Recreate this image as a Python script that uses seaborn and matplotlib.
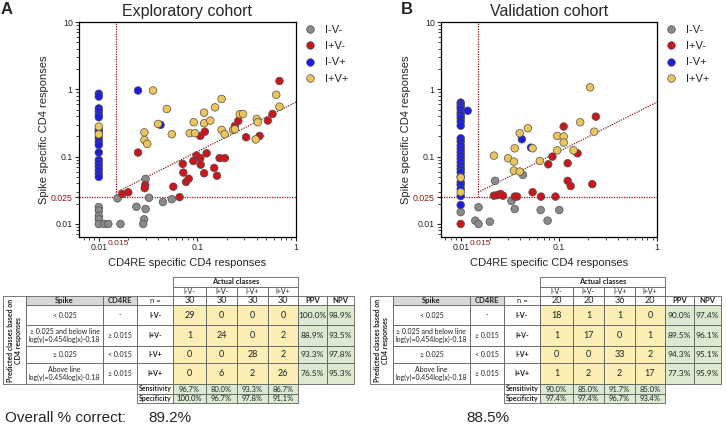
import numpy as np
import pandas as pd
import matplotlib
matplotlib.use("Agg")
import matplotlib.pyplot as plt
import seaborn as sns
from matplotlib.patches import Rectangle
from matplotlib.ticker import LogLocator, NullFormatter

# --- data ---
classes = ["I-V-", "I+V-", "I-V+", "I+V+"]
class_colors = ["#8a8a8a", "#cc161c", "#1c1ce6", "#ebc45a"]

# Exploratory cohort: x = CD4RE specific, y = spike specific CD4 responses
exp_neg_x = [0.01, 0.01, 0.01, 0.01, 0.01, 0.0114, 0.0125, 0.0166, 0.0155, 0.0241, 0.0298,
             0.0288, 0.0282, 0.0323, 0.0447, 0.055, 0.0298]
exp_neg_y = [0.0178, 0.0158, 0.0131, 0.0117, 0.01, 0.01, 0.01, 0.01, 0.024, 0.018, 0.0167,
             0.0117, 0.01, 0.0245, 0.0212, 0.0233, 0.0467]
exp_ipos_x = [0.025, 0.0173, 0.0199, 0.0296, 0.0292, 0.057, 0.066, 0.071, 0.072, 0.0766,
              0.0816, 0.091, 0.098, 0.107, 0.108, 0.117, 0.124, 0.107, 0.119, 0.148,
              0.158, 0.168, 0.19, 0.24, 0.26, 0.312, 0.427, 0.518, 0.578, 0.68]
exp_ipos_y = [0.115, 0.0279, 0.0296, 0.038, 0.034, 0.0358, 0.025, 0.078, 0.058, 0.042,
              0.047, 0.086, 0.104, 0.095, 0.076, 0.0566, 0.112, 0.203, 0.235, 0.068,
              0.052, 0.095, 0.095, 0.285, 0.34, 0.194, 0.203, 0.343, 0.43, 1.33]
exp_vpos_x = [0.01] * 18 + [0.025, 0.0423]
exp_vpos_y = [0.86, 0.78, 0.52, 0.47, 0.42, 0.385, 0.25, 0.23, 0.19, 0.167, 0.149, 0.115,
              0.089, 0.080, 0.071, 0.063, 0.056, 0.050, 0.96, 0.296]
exp_both_x = [0.01, 0.01, 0.0355, 0.049, 0.040, 0.029, 0.029, 0.031, 0.055, 0.0835, 0.0917,
              0.0945, 0.117, 0.117, 0.135, 0.151, 0.176, 0.176, 0.189, 0.23, 0.24, 0.269,
              0.29, 0.39, 0.40, 0.41, 0.63, 0.68]
exp_both_y = [0.28, 0.215, 0.96, 0.51, 0.306, 0.229, 0.177, 0.155, 0.215, 0.223, 0.324,
              0.223, 0.45, 0.313, 0.343, 0.54, 0.72, 0.25, 0.215, 0.25, 0.255, 0.426,
              0.43, 0.18, 0.363, 0.324, 0.83, 0.553]

# Validation cohort
val_neg_x = [0.01, 0.0152, 0.0141, 0.0152, 0.0198, 0.0224, 0.0329, 0.0355, 0.043, 0.0653,
             0.0768, 0.101]
val_neg_y = [0.015, 0.0177, 0.0112, 0.01, 0.0108, 0.0437, 0.022, 0.0167, 0.0535, 0.0161,
             0.0112, 0.0161]
val_ipos_x = [0.01, 0.0218, 0.0236, 0.0255, 0.027, 0.0355, 0.0375, 0.054, 0.0659, 0.078,
              0.086, 0.0924, 0.123, 0.123, 0.132, 0.155, 0.112, 0.219, 0.238]
val_ipos_y = [0.01, 0.0263, 0.0268, 0.0279, 0.0263, 0.0255, 0.0255, 0.0296, 0.0255, 0.077,
              0.1, 0.0255, 0.0798, 0.0437, 0.0366, 0.112, 0.28, 0.039, 0.393]
val_vpos_x = [0.01] * 26 + [0.0118, 0.042, 0.052]
val_vpos_y = [0.635, 0.586, 0.542, 0.506, 0.451, 0.41, 0.372, 0.33, 0.288, 0.187, 0.167,
              0.146, 0.13, 0.116, 0.1035, 0.0924, 0.0825, 0.0735, 0.0656, 0.0586, 0.0505,
              0.0417, 0.038, 0.0331, 0.026, 0.0191, 0.48, 0.181, 0.136]
val_both_x = [0.01, 0.01, 0.0218, 0.0304, 0.0348, 0.0399, 0.0483, 0.0355, 0.054, 0.0348,
              0.0399, 0.064, 0.208, 0.165, 0.0962, 0.112, 0.112, 0.0962, 0.141, 0.229]
val_both_y = [0.0488, 0.0296, 0.1035, 0.0946, 0.0843, 0.223, 0.264, 0.133, 0.133, 0.062,
              0.060, 0.0863, 1.07, 0.324, 0.203, 0.199, 0.162, 0.124, 0.124, 0.235]

# thresholds and dividing line (as drawn)
spike_cut = 0.025
cd4re_cut = 0.015
line_slope = 0.735
line_icpt = -0.19

# classification tables
spike_rules = ["< 0.025", "\u2265 0.025 and below line\nlog(y)=0.454log(x)-0.18", "\u2265 0.025",
               "Above line\nlog(y)=0.454log(x)-0.18"]
cd4re_rules = ["-", "\u2265 0.015", "< 0.015", "\u2265 0.015"]
exp_n = [30, 30, 30, 30]
exp_counts = [[29, 0, 0, 0], [1, 24, 0, 2], [0, 0, 28, 2], [0, 6, 2, 26]]
exp_ppv = [100.0, 88.9, 93.3, 76.5]
exp_npv = [98.9, 93.5, 97.8, 95.3]
exp_sens = [96.7, 80.0, 93.3, 86.7]
exp_spec = [100.0, 96.7, 97.8, 91.1]
val_n = [20, 20, 36, 20]
val_counts = [[18, 1, 1, 0], [1, 17, 0, 1], [0, 0, 33, 2], [1, 2, 2, 17]]
val_ppv = [90.0, 89.5, 94.3, 77.3]
val_npv = [97.4, 96.1, 95.1, 95.9]
val_sens = [90.0, 85.0, 91.7, 85.0]
val_spec = [97.4, 97.4, 96.7, 93.4]
overall_correct = [89.2, 88.5]

ref_color = "#8b1a1a"
yellow_fill = "#fbefb6"
green_fill = "#dbead0"
gray_fill = "#d9d9d9"
grid_color = "#606060"
table_font = ["Lato", "DejaVu Sans"]


def make_df(groups):
    rows = []
    for cls, xs, ys in groups:
        for x, y in zip(xs, ys):
            rows.append({"cd4re": x, "spike": y, "cls": cls})
    return pd.DataFrame(rows)


exp_df = make_df([("I-V-", exp_neg_x, exp_neg_y), ("I+V-", exp_ipos_x, exp_ipos_y),
                  ("I-V+", exp_vpos_x, exp_vpos_y), ("I+V+", exp_both_x, exp_both_y)])
val_df = make_df([("I-V-", val_neg_x, val_neg_y), ("I+V-", val_ipos_x, val_ipos_y),
                  ("I-V+", val_vpos_x, val_vpos_y), ("I+V+", val_both_x, val_both_y)])

sns.set_style("ticks")
plt.rcParams["font.family"] = ["Liberation Sans", "DejaVu Sans"]

fig = plt.figure(figsize=(7.26, 4.30), dpi=100)
W, H = 726, 430


def draw_scatter(ax, df, title):
    sns.scatterplot(data=df, x="cd4re", y="spike", hue="cls", hue_order=classes,
                    palette=class_colors, s=30, edgecolor="#505050", linewidth=0.5,
                    ax=ax, zorder=3)
    ax.set_xscale("log")
    ax.set_yscale("log")
    ax.set_xlim(0.0063, 1)
    ax.set_ylim(0.0064, 10)

    # cut-off lines
    lx = np.array([cd4re_cut, 1.0])
    ly = 10 ** (line_slope * np.log10(lx) + line_icpt)
    ax.plot(lx, ly, ls=(0, (1, 1)), color=ref_color, lw=0.9, zorder=2)
    ax.plot([cd4re_cut, cd4re_cut], [spike_cut, 10], ls=(0, (1, 1)), color=ref_color, lw=0.9, zorder=2)
    ax.axhline(spike_cut, ls=(0, (1, 1)), color=ref_color, lw=0.9, zorder=2)

    ax.set_yticks([0.01, 0.025, 0.1, 1, 10])
    ax.set_yticklabels(["0.01", "0.025", "0.1", "1", "10"])
    ax.get_yticklabels()[1].set_color(ref_color)
    ax.set_xticks([0.01, 0.1, 1])
    ax.set_xticklabels(["0.01", "0.1", "1"])
    ax.yaxis.set_minor_locator(LogLocator(base=10, subs=np.arange(2, 10)))
    ax.xaxis.set_minor_locator(LogLocator(base=10, subs=np.arange(2, 10)))
    ax.yaxis.set_minor_formatter(NullFormatter())
    ax.xaxis.set_minor_formatter(NullFormatter())
    ax.tick_params(which="major", length=3, width=0.8, labelsize=6.3, pad=1.5)
    ax.tick_params(which="minor", length=2, width=0.6)
    for sp in ax.spines.values():
        sp.set_linewidth(0.9)
        sp.set_color("black")
    # raised red label for the CD4RE cut-off, just right of "0.01"
    ax.text(0.0122, -0.012, "0.015", color=ref_color, fontsize=6, ha="left", va="top",
            transform=ax.get_xaxis_transform())

    ax.set_xlabel("CD4RE specific CD4 responses", fontsize=8, labelpad=4)
    ax.set_ylabel("Spike specific CD4 responses", fontsize=8, labelpad=1.5)
    ax.set_title(title, fontsize=11.5, pad=4)
    sns.move_legend(ax, "upper left", bbox_to_anchor=(1.015, 0.985), frameon=False, title=None,
                    fontsize=8, handletextpad=0.3, labelspacing=0.55, borderaxespad=0,
                    borderpad=0)


ax_a = fig.add_axes([79 / W, 1 - 237 / H, 217 / W, 215 / H])
ax_b = fig.add_axes([441 / W, 1 - 237 / H, 216 / W, 215 / H])
draw_scatter(ax_a, exp_df, "Exploratory cohort")
draw_scatter(ax_b, val_df, "Validation cohort")
fig.text(7 / W, 1 - 9 / H, "A", fontsize=12, fontweight="bold", ha="center", va="center")
fig.text(407 / W, 1 - 9 / H, "B", fontsize=12, fontweight="bold", ha="center", va="center")

# --- tables, drawn in pixel coordinates ---
ax_t = fig.add_axes([0, 0, 1, 1], zorder=-1)
ax_t.set_xlim(0, W)
ax_t.set_ylim(H, 0)
ax_t.axis("off")

table_cols = [3, 26, 103, 137, 173, 206, 237, 268, 298, 327, 354]
table_rows = [277, 287, 296, 305, 325, 346, 363, 384, 394, 403]


def draw_table(ax, x0, n_vals, counts, ppv, npv, sens, spec):
    cx = [x0 + c for c in table_cols]
    ry = table_rows

    def cell(c0, c1, r0, r1, text="", fc="white", bold=False, size=5, rot=0):
        ax.add_patch(Rectangle((cx[c0], ry[r0]), cx[c1] - cx[c0], ry[r1] - ry[r0],
                               facecolor=fc, edgecolor=grid_color, lw=0.6))
        if text:
            ax.text((cx[c0] + cx[c1]) / 2, (ry[r0] + ry[r1]) / 2, text, ha="center",
                    va="center", fontsize=size, fontweight="bold" if bold else "normal",
                    rotation=rot, family=table_font, linespacing=1.2, color="#222222")

    cell(4, 8, 0, 1, "Actual classes", bold=True, size=5.5)
    for j in range(4):
        cell(4 + j, 5 + j, 1, 2, classes[j], size=5)
    cell(0, 1, 2, 7, "Predicted classes based on\nCD4 responses", bold=True, size=5, rot=90)
    cell(1, 2, 2, 3, "Spike", fc=gray_fill, bold=True, size=5.5)
    cell(2, 3, 2, 3, "CD4RE", fc=gray_fill, bold=True, size=5.5)
    cell(3, 4, 2, 3, "n =", size=5.5)
    for j in range(4):
        cell(4 + j, 5 + j, 2, 3, str(n_vals[j]), size=6.5)
    cell(8, 9, 2, 3, "PPV", bold=True, size=5.5)
    cell(9, 10, 2, 3, "NPV", bold=True, size=5.5)
    for i in range(4):
        cell(1, 2, 3 + i, 4 + i, spike_rules[i], size=5)
        cell(2, 3, 3 + i, 4 + i, cd4re_rules[i], size=5)
        cell(3, 4, 3 + i, 4 + i, classes[i], bold=True, size=5)
        for j in range(4):
            cell(4 + j, 5 + j, 3 + i, 4 + i, str(counts[i][j]), fc=yellow_fill, size=6.5)
        cell(8, 9, 3 + i, 4 + i, f"{ppv[i]:.1f}%", fc=green_fill, size=6)
        cell(9, 10, 3 + i, 4 + i, f"{npv[i]:.1f}%", fc=green_fill, size=6)
    cell(3, 4, 7, 8, "Sensitivity", bold=True, size=5)
    cell(3, 4, 8, 9, "Specificity", bold=True, size=5)
    for j in range(4):
        cell(4 + j, 5 + j, 7, 8, f"{sens[j]:.1f}%", fc=green_fill, size=5.5)
        cell(4 + j, 5 + j, 8, 9, f"{spec[j]:.1f}%", fc=green_fill, size=5.5)


draw_table(ax_t, 0, exp_n, exp_counts, exp_ppv, exp_npv, exp_sens, exp_spec)
draw_table(ax_t, 367, val_n, val_counts, val_ppv, val_npv, val_sens, val_spec)

narrow = ["Liberation Sans Narrow", "Liberation Sans"]
fig.text(5 / W, 1 - 418 / H, "Overall % correct:", fontsize=11, family=narrow, va="center")
fig.text(170 / W, 1 - 418 / H, f"{overall_correct[0]:.1f}%", fontsize=11, family=narrow,
         va="center", ha="center")
fig.text(488 / W, 1 - 418 / H, f"{overall_correct[1]:.1f}%", fontsize=11, family=narrow,
         va="center", ha="center")

fig.savefig("out.png", dpi=100)
